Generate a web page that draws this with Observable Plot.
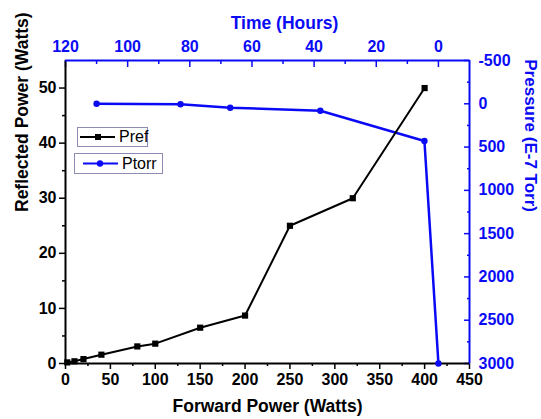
<!DOCTYPE html>
<html><head><meta charset="utf-8">
<script src="https://cdn.jsdelivr.net/npm/d3@7"></script>
<script src="https://cdn.jsdelivr.net/npm/@observablehq/plot@0.6"></script>
<style>
body{margin:0;background:#fff;}
#wrap{position:relative;width:541px;height:419px;font-family:"Liberation Sans",Arial,sans-serif;}
.leg{position:absolute;border:1px solid #8c8cb4;background:#fff;box-sizing:border-box;}
.leg svg{position:absolute;left:0;top:0;}
.leg span{position:absolute;font-size:16px;line-height:1;color:#000;}
</style></head><body><div id="wrap"></div>
<script>
// Reflected power vs forward power (bottom / left axes)
const forwardPower   = [2, 10, 20, 40, 80, 100, 150, 200, 250, 320, 400];
const reflectedPower = [0.2, 0.4, 0.8, 1.6, 3.1, 3.6, 6.5, 8.7, 25, 30, 50];
// Pressure vs time (top / right axes)
const timeHours    = [110, 83, 67, 38, 4.5, 0];
const pressureTorr = [0, 5, 45, 80, 430, 3000];

// tick labels
const forwardTicks   = [0, 50, 100, 150, 200, 250, 300, 350, 400, 450];
const forwardMinor   = [25, 75, 125, 175, 225, 275, 325, 375, 425];
const reflectedTicks = [0, 10, 20, 30, 40, 50];
const reflectedMinor = [5, 15, 25, 35, 45];
const timeTicks      = [120, 100, 80, 60, 40, 20, 0];
const timeMinor      = [110, 90, 70, 50, 30, 10];
const pressureTicks  = [-500, 0, 500, 1000, 1500, 2000, 2500, 3000];
const pressureMinor  = [-250, 250, 750, 1250, 1750, 2250, 2750];

const BLUE = "#0a0af5";
const X_DOMAIN = [0, 450], Y_DOMAIN = [0, 55];
const T_DOMAIN = [120, -10], P_DOMAIN = [-500, 3000]; // top->bottom reversed
// map secondary axes onto primary scales
const tx = t => (T_DOMAIN[0] - t) / (T_DOMAIN[0] - T_DOMAIN[1]) * X_DOMAIN[1];
const txInv = x => T_DOMAIN[0] - x / X_DOMAIN[1] * (T_DOMAIN[0] - T_DOMAIN[1]);
const py = p => (P_DOMAIN[1] - p) / (P_DOMAIN[1] - P_DOMAIN[0]) * Y_DOMAIN[1];
const pyInv = y => P_DOMAIN[1] - y / Y_DOMAIN[1] * (P_DOMAIN[1] - P_DOMAIN[0]);

const pref = forwardPower.map((f, i) => ({f, r: reflectedPower[i]}));
const ptorr = timeHours.map((t, i) => ({t, p: pressureTorr[i]}));

const FONT = "Liberation Sans, Arial, sans-serif";
const chart = Plot.plot({
  width: 541, height: 419,
  marginLeft: 65, marginRight: 72, marginTop: 60, marginBottom: 56,
  x: {domain: X_DOMAIN}, y: {domain: Y_DOMAIN},
  style: {fontFamily: FONT, background: "white", overflow: "visible"},
  marks: [
    // axes
    Plot.axisY(reflectedTicks, {anchor: "left", tickSize: 6, tickPadding: 3, tickFormat: v => String(v), fontSize: 16, fontWeight: "bold", strokeWidth: 1.5, label: null, color: "black"}),
    Plot.axisY(reflectedMinor, {anchor: "left", tickSize: 3, tickFormat: () => "", strokeWidth: 1.5, label: null, color: "black"}),
    Plot.axisX(forwardTicks, {anchor: "bottom", tickSize: 6, tickPadding: 4, tickFormat: v => String(v), fontSize: 16, fontWeight: "bold", strokeWidth: 1.5, label: null, color: "black"}),
    Plot.axisX(forwardMinor, {anchor: "bottom", tickSize: 3, tickFormat: () => "", strokeWidth: 1.5, label: null, color: "black"}),
    Plot.axisX(timeTicks.map(tx), {anchor: "top", tickSize: -6, tickPadding: 15, tickFormat: v => String(Math.round(txInv(v))), fontSize: 16, fontWeight: "bold", strokeWidth: 1.5, label: null, color: BLUE}),
    Plot.axisX(timeMinor.map(tx), {anchor: "top", tickSize: -3, tickFormat: () => "", strokeWidth: 1.5, label: null, color: BLUE}),
    Plot.axisY(pressureTicks.map(py), {anchor: "right", tickSize: -6, tickPadding: 15, tickFormat: v => String(Math.round(pyInv(v))), fontSize: 16, fontWeight: "bold", strokeWidth: 1.5, label: null, color: BLUE}),
    Plot.axisY(pressureMinor.map(py), {anchor: "right", tickSize: -3, tickFormat: () => "", strokeWidth: 1.5, label: null, color: BLUE}),
    // frame
    Plot.ruleX([X_DOMAIN[0]], {stroke: "black", strokeWidth: 2}),
    Plot.ruleY([Y_DOMAIN[1]], {stroke: BLUE, strokeWidth: 2}),
    Plot.ruleX([X_DOMAIN[1]], {stroke: BLUE, strokeWidth: 2}),
    Plot.ruleY([Y_DOMAIN[0]], {stroke: "black", strokeWidth: 2}),
    // data
    Plot.line(ptorr, {x: d => tx(d.t), y: d => py(d.p), stroke: BLUE, strokeWidth: 2.5}),
    Plot.dot(ptorr, {x: d => tx(d.t), y: d => py(d.p), fill: BLUE, r: 3.2}),
    Plot.line(pref, {x: "f", y: "r", stroke: "black", strokeWidth: 2}),
    Plot.dot(pref, {x: "f", y: "r", symbol: "square", fill: "black", r: 3.5}),
    // titles
    Plot.text(["Reflected Power (Watts)"], {frameAnchor: "left", rotate: -90, dx: -43, fontSize: 17.5, fontWeight: "bold", fill: "black"}),
    Plot.text(["Forward Power (Watts)"], {frameAnchor: "bottom", dy: 48, fontSize: 17.5, fontWeight: "bold", fill: "black"}),
    Plot.text(["Time (Hours)"], {frameAnchor: "top", dy: -43.5, dx: 17, fontSize: 17.5, fontWeight: "bold", fill: BLUE}),
    Plot.text(["Pressure (E-7 Torr)"], {frameAnchor: "right", rotate: 90, dx: 61, fontSize: 17, fontWeight: "bold", fill: BLUE})
  ]
});
const wrap = document.getElementById("wrap");
wrap.appendChild(chart);

// legend
const legendItems = [
  {label: "Pref", color: "black", shape: "square", box: [77, 127, 71, 20], line: [2, 37], mark: 20, text: 41},
  {label: "Ptorr", color: BLUE, shape: "circle", box: [74, 153, 89, 21], line: [8, 43], mark: 25, text: 47}
];
for (const it of legendItems) {
  const [l, t, w, h] = it.box;
  const div = document.createElement("div");
  div.className = "leg";
  Object.assign(div.style, {left: l + "px", top: t + "px", width: w + "px", height: h + "px"});
  const cy = (h - 2) / 2;
  const m = it.shape === "square"
    ? `<rect x="${it.mark - 3}" y="${cy - 3}" width="6" height="6" fill="${it.color}"/>`
    : `<circle cx="${it.mark}" cy="${cy}" r="3.2" fill="${it.color}"/>`;
  div.innerHTML = `<svg width="${w}" height="${h}"><line x1="${it.line[0]}" x2="${it.line[1]}" y1="${cy}" y2="${cy}" stroke="${it.color}" stroke-width="2.2"/>${m}</svg><span style="left:${it.text}px;top:${cy - 8}px">${it.label}</span>`;
  wrap.appendChild(div);
}
</script></body></html>
